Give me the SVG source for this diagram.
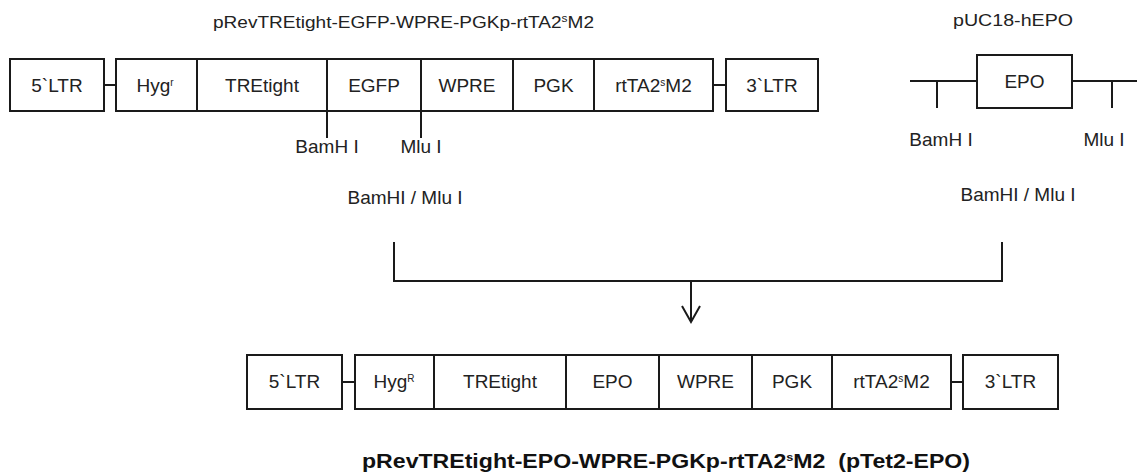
<svg xmlns="http://www.w3.org/2000/svg" width="1137" height="474" viewBox="0 0 1137 474">
<style>
.b{fill:#fff;stroke:#1a1a1a;stroke-width:2}
.l{fill:none;stroke:#1a1a1a;stroke-width:2}
.t{font-family:"Liberation Sans",Arial,sans-serif;font-size:19px;fill:#222;text-anchor:middle}
.s{font-size:10px}
.ti{font-family:"Liberation Sans",Arial,sans-serif;font-size:16px;fill:#222}
.bt{font-family:"Liberation Sans",Arial,sans-serif;font-size:20px;font-weight:bold;fill:#111}
</style>
<defs>
<marker id="ah" markerWidth="20" markerHeight="20" refX="17" refY="10" orient="auto" markerUnits="userSpaceOnUse" viewBox="0 0 20 20">
<path d="M1,1 L17,10 L1,19" fill="none" stroke="#1a1a1a" stroke-width="2"/>
</marker>
</defs>
<text class="ti" x="213" y="28" textLength="381" lengthAdjust="spacingAndGlyphs">pRevTREtight-EGFP-WPRE-PGKp-rtTA2<tspan class="s" dy="-6">s</tspan><tspan dy="6">M2</tspan></text>
<text class="ti" x="953" y="26" textLength="120" lengthAdjust="spacingAndGlyphs">pUC18-hEPO</text>

<g id="connectors">
<line class="l" x1="104" y1="85" x2="116" y2="85"/>
<line class="l" x1="713" y1="85" x2="726" y2="85"/>
<line class="l" x1="327" y1="111" x2="327" y2="138"/>
<line class="l" x1="421" y1="111" x2="421" y2="138"/>
<line class="l" x1="910" y1="81" x2="977" y2="81"/>
<line class="l" x1="1072" y1="81" x2="1137" y2="81"/>
<line class="l" x1="937" y1="81" x2="937" y2="108"/>
<line class="l" x1="1112" y1="81" x2="1112" y2="108"/>
<polyline class="l" points="394,242 394,281 1002,281 1002,242"/>
<line class="l" x1="691" y1="281" x2="691" y2="322" marker-end="url(#ah)"/>
<line class="l" x1="342" y1="382" x2="355" y2="382"/>
<line class="l" x1="951" y1="382" x2="963" y2="382"/>
</g>

<g id="top-5LTR"><rect class="b" x="10" y="59" width="94" height="52"/><text class="t" x="57" y="92">5`LTR</text></g>
<g id="top-cassette">
<rect class="b" x="116" y="59" width="597" height="52"/>
<line class="l" x1="197" y1="59" x2="197" y2="111"/>
<line class="l" x1="327" y1="59" x2="327" y2="111"/>
<line class="l" x1="421" y1="59" x2="421" y2="111"/>
<line class="l" x1="513" y1="59" x2="513" y2="111"/>
<line class="l" x1="594" y1="59" x2="594" y2="111"/>
<text class="t" x="155" y="92">Hyg<tspan class="s" dy="-6">r</tspan></text>
<text class="t" x="262" y="92">TREtight</text>
<text class="t" x="374" y="92">EGFP</text>
<text class="t" x="467" y="92">WPRE</text>
<text class="t" x="553.5" y="92">PGK</text>
<text class="t" x="653.5" y="92">rtTA2<tspan class="s" dy="-6">s</tspan><tspan dy="6">M2</tspan></text>
</g>
<g id="top-3LTR"><rect class="b" x="726" y="59" width="92" height="52"/><text class="t" x="772" y="92">3`LTR</text></g>
<g id="site-labels-top">
<text class="t" x="327" y="153">BamH I</text>
<text class="t" x="421" y="153">Mlu I</text>
<text class="t" x="405" y="204">BamHI / Mlu I</text>
</g>

<g id="hEPO"><rect class="b" x="977" y="55" width="95" height="53"/><text class="t" x="1024.5" y="88">EPO</text></g>
<g id="site-labels-epo">
<text class="t" x="941" y="146">BamH I</text>
<text class="t" x="1104" y="146">Mlu I</text>
<text class="t" x="1018" y="201">BamHI / Mlu I</text>
</g>

<g id="bot-5LTR"><rect class="b" x="247" y="355" width="95" height="54"/><text class="t" x="294.5" y="388">5`LTR</text></g>
<g id="bot-cassette">
<rect class="b" x="355" y="355" width="596" height="54"/>
<line class="l" x1="434" y1="355" x2="434" y2="409"/>
<line class="l" x1="566" y1="355" x2="566" y2="409"/>
<line class="l" x1="659" y1="355" x2="659" y2="409"/>
<line class="l" x1="752" y1="355" x2="752" y2="409"/>
<line class="l" x1="832" y1="355" x2="832" y2="409"/>
<text class="t" x="394" y="388">Hyg<tspan class="s" dy="-6">R</tspan></text>
<text class="t" x="500" y="388">TREtight</text>
<text class="t" x="612.5" y="388">EPO</text>
<text class="t" x="705.5" y="388">WPRE</text>
<text class="t" x="792" y="388">PGK</text>
<text class="t" x="891.5" y="388">rtTA2<tspan class="s" dy="-6">s</tspan><tspan dy="6">M2</tspan></text>
</g>
<g id="bot-3LTR"><rect class="b" x="963" y="355" width="95" height="54"/><text class="t" x="1010.5" y="388">3`LTR</text></g>

<text class="bt" x="362" y="468" textLength="608" lengthAdjust="spacingAndGlyphs" xml:space="preserve">pRevTREtight-EPO-WPRE-PGKp-rtTA2<tspan class="s" dy="-7" style="font-size:11px">s</tspan><tspan dy="7">M2  (pTet2-EPO)</tspan></text>
</svg>
